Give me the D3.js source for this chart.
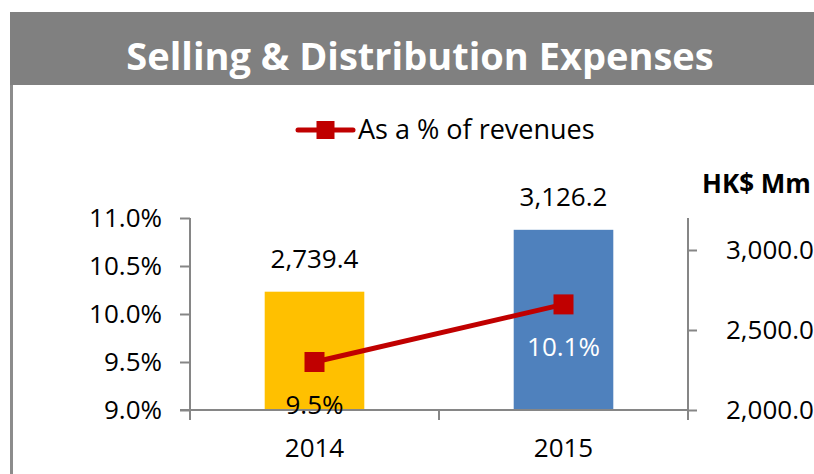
<!DOCTYPE html>
<html>
<head>
<meta charset="utf-8">
<script src="https://cdn.jsdelivr.net/npm/d3@7"></script>
<style>
  body { margin: 0; background: #fff; }
  text { font-family: "Open Sans", "Noto Sans", sans-serif; }
</style>
</head>
<body>
<div id="chart"></div>
<script>
// Chart data
var years = ["2014", "2015"];
var expenses = [2739.4, 3126.2];          // HK$ Mm, right axis
var pctRevenue = [9.5, 10.1];             // % of revenues, left axis
var barColors = ["#FFC000", "#4F81BD"];
var pctTicks = [9.0, 9.5, 10.0, 10.5, 11.0];
var mmTicks = [2000, 2500, 3000];

var W = 814, H = 474;
var plot = {left: 190, right: 688, top: 218, bottom: 410};
var fs = 26;

var svg = d3.select("#chart")
  .append("svg")
    .attr("width", W)
    .attr("height", H);

// Title banner and frame
svg.append("rect")
  .attr("x", 10).attr("y", 12)
  .attr("width", W - 10).attr("height", 73)
  .attr("fill", "#808080");
svg.append("line")
  .attr("x1", 11.5).attr("x2", 11.5)
  .attr("y1", 85).attr("y2", H)
  .attr("stroke", "#8c8c8c").attr("stroke-width", 3);
svg.append("text")
  .attr("x", 420).attr("y", 70)
  .attr("text-anchor", "middle")
  .attr("fill", "#fff")
  .attr("font-weight", "bold")
  .attr("font-size", 38)
  .text("Selling & Distribution Expenses");

// Scales
var x = d3.scaleBand()
  .domain(years)
  .range([plot.left, plot.right]);
var barW = x.bandwidth() * 0.4;

var yPct = d3.scaleLinear()
  .domain([9.0, 11.0])
  .range([plot.bottom, plot.top]);
var yMm = d3.scaleLinear()
  .domain([2000, 3200])
  .range([plot.bottom, plot.top]);

// Bars
svg.append("g")
  .selectAll("rect")
  .data(expenses)
  .enter()
  .append("rect")
    .attr("x", function(d, i) { return x(years[i]) + (x.bandwidth() - barW) / 2; })
    .attr("y", function(d) { return yMm(d); })
    .attr("width", barW)
    .attr("height", function(d) { return yMm(2000) - yMm(d); })
    .attr("fill", function(d, i) { return barColors[i]; });

// Bar labels
svg.append("g")
  .selectAll("text")
  .data(expenses)
  .enter()
  .append("text")
    .attr("x", function(d, i) { return x(years[i]) + x.bandwidth() / 2; })
    .attr("y", function(d) { return yMm(d) - 24; })
    .attr("text-anchor", "middle")
    .attr("font-size", fs)
    .attr("fill", "#000")
    .text(function(d) { return d3.format(",.1f")(d); });

// Axes
var axisColor = "#868686";

var leftAxis = svg.append("g")
  .attr("transform", "translate(" + plot.left + ",0)")
  .call(d3.axisLeft(yPct).tickValues(pctTicks).tickSize(10).tickPadding(18)
    .tickFormat(function(d) { return d.toFixed(1) + "%"; }));

var rightAxis = svg.append("g")
  .attr("transform", "translate(" + plot.right + ",0)")
  .call(d3.axisRight(yMm).tickValues(mmTicks).tickSize(9).tickPadding(29)
    .tickFormat(d3.format(",.1f")));

var bottomAxis = svg.append("g")
  .attr("transform", "translate(0," + plot.bottom + ")")
  .call(d3.axisBottom(x).tickSize(0).tickPadding(29));

// category boundary ticks
svg.append("g")
  .selectAll("line")
  .data([plot.left, x(years[1]), plot.right])
  .enter()
  .append("line")
    .attr("x1", function(d) { return d; })
    .attr("x2", function(d) { return d; })
    .attr("y1", plot.bottom).attr("y2", plot.bottom + 10)
    .attr("stroke", axisColor).attr("stroke-width", 2);

[leftAxis, rightAxis, bottomAxis].forEach(function(a) {
  a.select(".domain").attr("stroke", axisColor).attr("stroke-width", 2);
  a.selectAll(".tick line").attr("stroke", axisColor).attr("stroke-width", 2);
  a.selectAll("text")
    .attr("font-size", fs)
    .attr("fill", "#000")
    .style("font-family", "'Open Sans', 'Noto Sans', sans-serif");
});
leftAxis.select(".domain").attr("d", "M0," + plot.top + "V" + (plot.bottom + 10));
rightAxis.select(".domain").attr("d", "M0," + plot.top + "V" + (plot.bottom + 10));
bottomAxis.select(".domain").attr("d", "M" + (plot.left - 10) + ",0H" + plot.right);

// Axis unit label
svg.append("text")
  .attr("x", 702).attr("y", 193)
  .attr("font-size", fs)
  .attr("font-weight", "bold")
  .attr("fill", "#000")
  .text("HK$ Mm");

// Line series
var line = d3.line()
  .x(function(d, i) { return x(years[i]) + x.bandwidth() / 2; })
  .y(function(d) { return yPct(d); });

svg.append("path")
  .datum(pctRevenue)
  .attr("fill", "none")
  .attr("stroke", "#C00000")
  .attr("stroke-width", 5)
  .attr("d", line);

var mk = 20;
svg.append("g")
  .selectAll("rect")
  .data(pctRevenue)
  .enter()
  .append("rect")
    .attr("x", function(d, i) { return x(years[i]) + x.bandwidth() / 2 - mk / 2; })
    .attr("y", function(d) { return yPct(d) - mk / 2; })
    .attr("width", mk).attr("height", mk)
    .attr("fill", "#C00000");

// Line labels
var pctLabelColors = ["#000", "#fff"];
svg.append("g")
  .selectAll("text")
  .data(pctRevenue)
  .enter()
  .append("text")
    .attr("x", function(d, i) { return x(years[i]) + x.bandwidth() / 2; })
    .attr("y", function(d) { return yPct(d) + 52; })
    .attr("text-anchor", "middle")
    .attr("font-size", fs)
    .attr("fill", function(d, i) { return pctLabelColors[i]; })
    .text(function(d) { return d.toFixed(1) + "%"; });

// Legend
var lg = svg.append("g").attr("transform", "translate(298,130)");
lg.append("line")
  .attr("x1", 0).attr("x2", 55).attr("y1", 0).attr("y2", 0)
  .attr("stroke", "#C00000").attr("stroke-width", 5)
  .attr("stroke-linecap", "round");
lg.append("rect")
  .attr("x", 27.5 - 9).attr("y", -9).attr("width", 18).attr("height", 18)
  .attr("fill", "#C00000");
lg.append("text")
  .attr("x", 60).attr("y", 9)
  .attr("font-size", 27)
  .attr("fill", "#000")
  .text("As a % of revenues");
</script>
</body>
</html>
